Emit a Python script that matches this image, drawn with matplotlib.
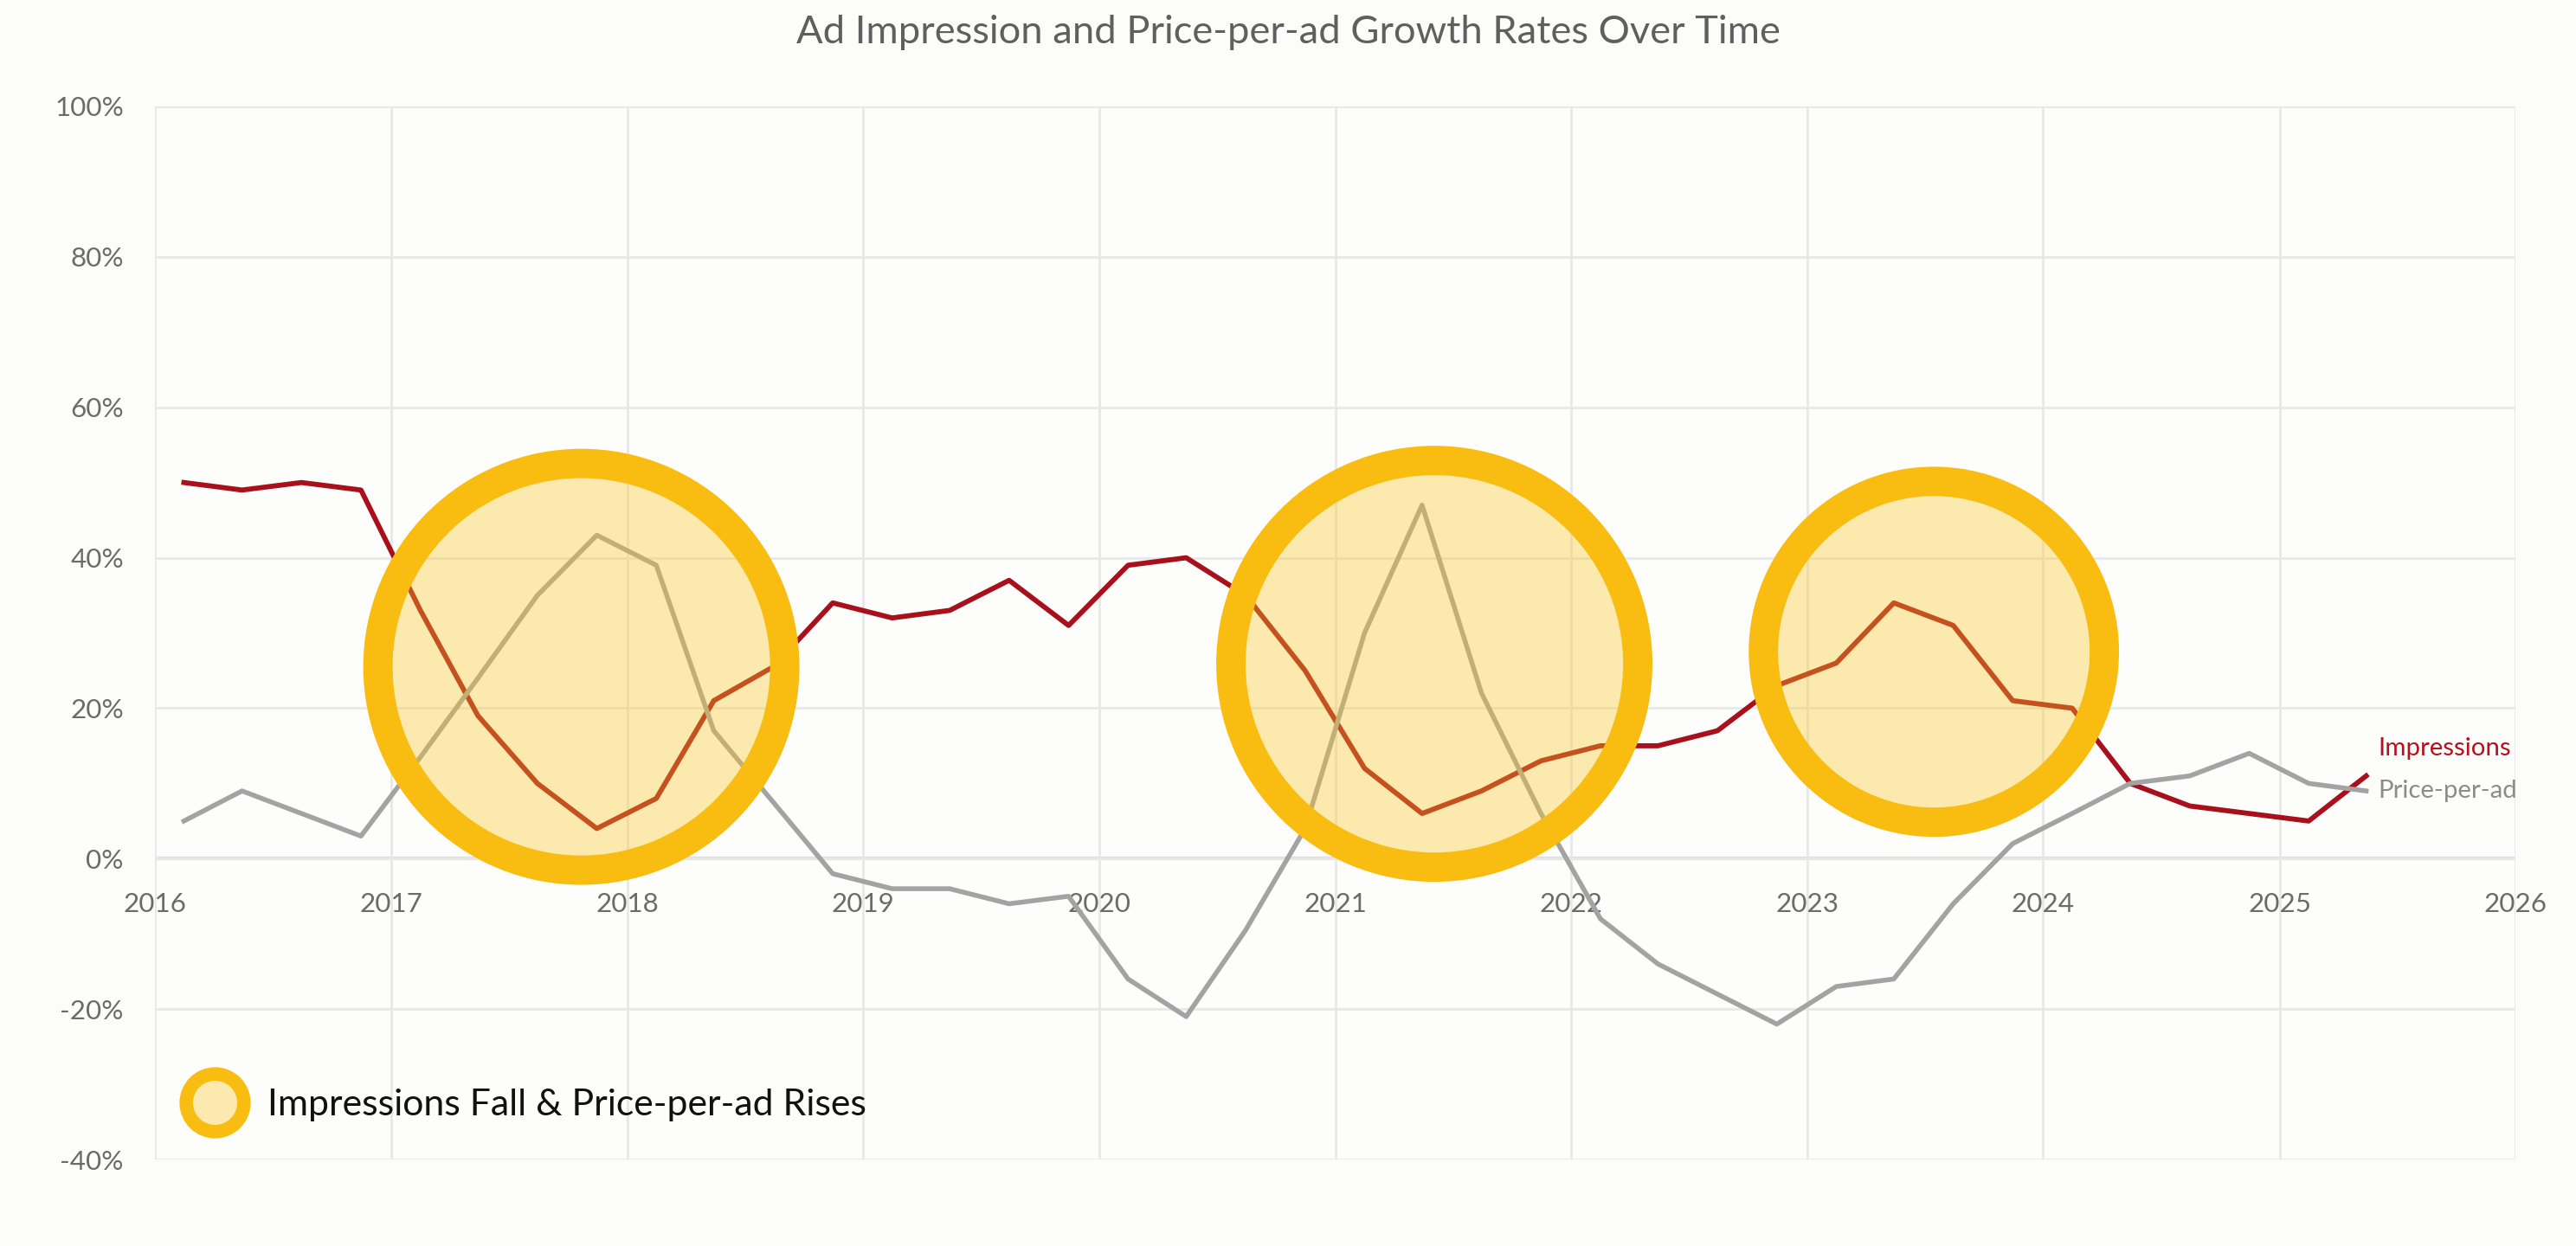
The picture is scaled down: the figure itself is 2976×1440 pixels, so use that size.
import numpy as np
import pandas as pd
import matplotlib
matplotlib.use("Agg")
import matplotlib.pyplot as plt
import matplotlib.dates as mdates
from matplotlib.lines import Line2D

plt.rcParams["font.family"] = ["Lato", "DejaVu Sans"]

# quarterly growth rates in %
dates = pd.date_range("2016-02-01", periods=38, freq="3MS") + pd.Timedelta(days=14)
impressions = [50, 49, 50, 49, 33, 19, 10, 4, 8, 21, 25.5, 34, 32, 33, 37, 31,
               39, 40, 35, 25, 12, 6, 9, 13, 15, 15, 17, 23, 26, 34, 31, 21,
               20, 10, 7, 6, 5, 11]
price_per_ad = [5, 9, 6, 3, 13.5, 24, 35, 43, 39, 17, 7.5, -2, -4, -4, -6, -5,
                -16, -21, -9.5, 4, 30, 47, 22, 6, -8, -14, -18, -22, -17, -16, -6, 2,
                6, 10, 11, 14, 10, 9]

# highlighted periods (impressions fall while price-per-ad rises)
highlight_dates = pd.to_datetime(["2017-10-22", "2021-06-03", "2023-07-16"])
highlight_levels = [25.5, 25.9, 27.5]

red = "#a8101c"
grey = "#a3a3a3"
gold = "#f9bd12"
fill = (0.976, 0.780, 0.150, 0.36)
txt_grey = "#6b6b6b"

fig = plt.figure(figsize=(14.88, 7.2), dpi=200, facecolor="#fcfcfb")
ax = fig.add_axes([0.0601, 0.0694, 0.9164, 0.8452])
ax.set_facecolor("#fdfdfc")

ax.plot(dates, impressions, color=red, lw=2.1, zorder=3)
ax.plot(dates, price_per_ad, color=grey, lw=2.0, zorder=3)

# highlight rings drawn above the lines
ring_sizes = [28630, 28630, 20110]
ax.scatter(highlight_dates, highlight_levels, s=ring_sizes, facecolors=[fill],
           edgecolors=gold, linewidths=12.2, zorder=4, clip_on=False)

ax.axhline(0, color="#dcdde1", lw=1.5, zorder=1)

ax.set_xlim(pd.Timestamp("2016-01-01"), pd.Timestamp("2026-01-01"))
ax.set_ylim(-40, 100)
ax.xaxis.set_major_locator(mdates.YearLocator())
ax.xaxis.set_major_formatter(mdates.DateFormatter("%Y"))
ax.set_yticks(range(-40, 101, 20))
ax.yaxis.set_major_formatter(lambda v, p: f"{v:.0f}%")
ax.grid(color="#e8e8e8", lw=1.0, zorder=0)

for s in ax.spines.values():
    s.set_visible(False)
ax.spines["bottom"].set_position(("data", 0))
ax.tick_params(axis="x", length=0, pad=14, labelsize=11.3, labelcolor=txt_grey)
ax.tick_params(axis="y", length=0, pad=13, labelsize=11.3, labelcolor=txt_grey)

# end labels
ax.annotate("Impressions", (dates[-1], impressions[-1]), xytext=(5, 11.5),
            textcoords="offset points", ha="left", va="center",
            fontsize=10.6, color="#b0141e", annotation_clip=False)
ax.annotate("Price-per-ad", (dates[-1], price_per_ad[-1]), xytext=(5, 0),
            textcoords="offset points", ha="left", va="center",
            fontsize=10.6, color="#8c8c8c", annotation_clip=False)

fig.text(0.5, 1 - 38 / 1440, "Ad Impression and Price-per-ad Growth Rates Over Time",
         ha="center", va="center", fontsize=16.3, color="#5f5f5f")

handle = Line2D([], [], ls="none", marker="o", markersize=24, markerfacecolor=fill,
                markeredgecolor=gold, markeredgewidth=5.6)
ax.legend([handle], ["Impressions Fall & Price-per-ad Rises"], loc="center left",
          bbox_to_anchor=(0.0128, 0.0518), frameon=False, borderpad=0,
          borderaxespad=0, handlelength=1.6, handletextpad=0.62,
          prop={"family": "Lato", "size": 15.4}, labelcolor="#111111")

fig.savefig("out.png", dpi=200, facecolor=fig.get_facecolor())
